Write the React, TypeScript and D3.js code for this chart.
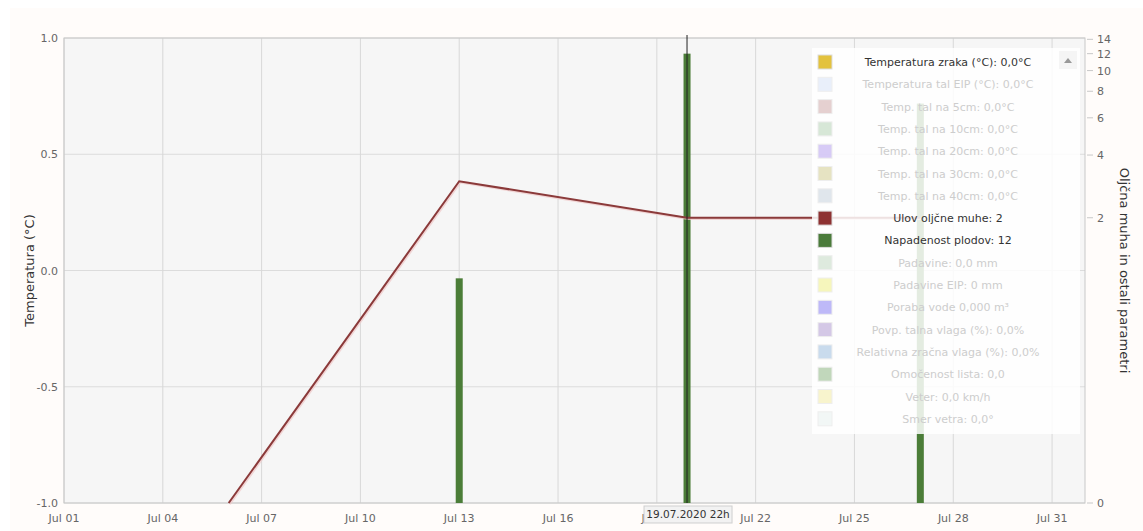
import React from 'react'
import * as d3 from 'd3'

const W = 1143
const H = 531

// dates
const dayTicks = ['2020-07-01', '2020-07-04', '2020-07-07', '2020-07-10', '2020-07-13', '2020-07-16', '2020-07-19', '2020-07-22', '2020-07-25', '2020-07-28', '2020-07-31']

// Napadenost plodov (bars, right axis)
const barDates = ['2020-07-13T00:00', '2020-07-19T22:00', '2020-07-27T00:00']
const barValues = [1, 12, 7]

// Ulov oljčne muhe (line, right axis)
const lineDates = ['2020-07-06T00:00', '2020-07-13T00:00', '2020-07-19T22:00', '2020-07-27T00:00']
const lineValues = [0, 3, 2, 2]

const leftTicks = [-1, -0.5, 0, 0.5, 1]
const rightTicks = [0, 2, 4, 6, 8, 10, 12, 14]

const legendNames = [
  'Temperatura zraka (°C): 0,0°C',
  'Temperatura tal EIP (°C): 0,0°C',
  'Temp. tal na 5cm: 0,0°C',
  'Temp. tal na 10cm: 0,0°C',
  'Temp. tal na 20cm: 0,0°C',
  'Temp. tal na 30cm: 0,0°C',
  'Temp. tal na 40cm: 0,0°C',
  'Ulov oljčne muhe: 2',
  'Napadenost plodov: 12',
  'Padavine: 0,0 mm',
  'Padavine EIP: 0 mm',
  'Poraba vode 0,000 m³',
  'Povp. talna vlaga (%): 0,0%',
  'Relativna zračna vlaga (%): 0,0%',
  'Omočenost lista: 0,0',
  'Veter: 0,0 km/h',
  'Smer vetra: 0,0°',
]
const legendColors = ['#e3c23e', '#e2eaf8', '#dcc0c0', '#c9dfc9', '#c9b9f3', '#dedaae', '#d5dde6', '#8e3232', '#4b7b3b', '#d3e3d3', '#f3f3a6', '#a8a2f5', '#c5b6de', '#b7cfe7', '#acc9a4', '#f6f0bc', '#eef4f3']
const legendActive = [true, false, false, false, false, false, false, true, true, false, false, false, false, false, false, false, false]

const FONT = 'DejaVu Sans, Verdana, sans-serif'

export default function App() {
  const left = 64, right = 1085, top = 38, bottom = 503
  const x = d3.scaleTime().domain([new Date('2020-07-01T00:00'), new Date('2020-08-01T00:00')]).range([left, right])
  const yL = d3.scaleLinear().domain([-1, 1]).range([bottom, top])
  const yR = d3.scaleSymlog().constant(0.1).domain([0, 14.2]).range([bottom, top])
  const fmtDay = d3.timeFormat('%b %d')
  const fmtL = (v: number) => v.toFixed(1)

  const linePts: [number, number][] = lineDates.map((d, i) => [x(new Date(d)), yR(lineValues[i])])
  const line = d3.line()
  const crossX = x(new Date('2020-07-19T22:00'))
  const barW = 7

  const legX = 812, legY = 48, legW = 268, rowH = 22.3
  const legTop = 62

  return (
    <svg width={W} height={H} style={{ position: 'absolute', left: 0, top: 0, fontFamily: FONT }}>
      <rect x={0} y={0} width={W} height={H} fill="#ffffff" />
      <rect x={10} y={8} width={W - 10} height={H - 8} fill="#fffcfa" />
      <rect x={left} y={top} width={right - left} height={bottom - top} fill="#f6f6f6" />

      {/* grid */}
      {leftTicks.map((t) => (
        <line key={'h' + t} x1={left} x2={right} y1={yL(t)} y2={yL(t)} stroke="#dcdcdc" />
      ))}
      {dayTicks.map((d) => (
        <line key={'v' + d} x1={x(new Date(d + 'T00:00'))} x2={x(new Date(d + 'T00:00'))} y1={top} y2={bottom} stroke="#d8d8d8" />
      ))}
      <rect x={left} y={top} width={right - left} height={bottom - top} fill="none" stroke="#c8c8c8" />

      {/* bars */}
      {barDates.map((d, i) => (
        <rect key={d} x={x(new Date(d)) - barW / 2} y={yR(barValues[i])} width={barW} height={bottom - yR(barValues[i])} fill="#4b7d38" />
      ))}

      {/* line */}
      <path d={line(linePts.map(([a, b]) => [a + 1, b + 1]) as [number, number][]) || ''} fill="none" stroke="#f0c8c8" strokeWidth={2.5} strokeOpacity={0.7} />
      <path d={line(linePts) || ''} fill="none" stroke="#8b3a3a" strokeWidth={2} />

      {/* crosshair */}
      <line x1={crossX} x2={crossX} y1={top - 3} y2={bottom} stroke="#222" strokeWidth={1} />

      {/* left axis */}
      {leftTicks.map((t) => (
        <text key={'lt' + t} x={58} y={yL(t) + 4} textAnchor="end" fontSize={11} fill="#666">
          {fmtL(t)}
        </text>
      ))}
      <text transform={`translate(34,${(top + bottom) / 2}) rotate(-90)`} textAnchor="middle" fontSize={13} fill="#333">
        Temperatura (°C)
      </text>

      {/* right axis */}
      {rightTicks.map((t) => (
        <g key={'rt' + t}>
          <line x1={right + 2} x2={right + 8} y1={yR(t)} y2={yR(t)} stroke="#c8c8c8" />
          <text x={right + 12} y={yR(t) + 4} fontSize={11} fill="#666">
            {t}
          </text>
        </g>
      ))}
      <text transform={`translate(1120,${(top + bottom) / 2}) rotate(90)`} textAnchor="middle" fontSize={13} fill="#333">
        Oljčna muha in ostali parametri
      </text>

      {/* x axis */}
      {dayTicks.map((d) => (
        <text key={'xt' + d} x={x(new Date(d + 'T00:00'))} y={522} textAnchor="middle" fontSize={11} fill="#666">
          {fmtDay(new Date(d + 'T00:00'))}
        </text>
      ))}
      <rect x={crossX - 43} y={506} width={88} height={17} fill="#f2f2f2" stroke="#cfcfcf" />
      <text x={crossX + 1} y={518} textAnchor="middle" fontSize={10.5} fill="#333">
        19.07.2020 22h
      </text>

      {/* legend */}
      <rect x={legX} y={legY} width={legW} height={386} fill="#ffffff" fillOpacity={0.85} />
      {legendNames.map((n, i) => {
        const cy = legTop + i * rowH
        return (
          <g key={n}>
            <rect x={818} y={cy - 7} width={14} height={14} fill={legendColors[i]} fillOpacity={legendActive[i] ? 1 : 0.75} stroke={legendActive[i] ? '#ddd' : '#eee'} strokeWidth={1} />
            <text x={948} y={cy + 4} textAnchor="middle" fontSize={11} fill={legendActive[i] ? '#333' : '#cdcdcd'}>
              {n}
            </text>
          </g>
        )
      })}
      <rect x={1059} y={51} width={18} height={18} fill="#eeeeee" fillOpacity={0.6} />
      <path d="M1064,63 L1068,58 L1072,63 Z" fill="#999" />
    </svg>
  )
}
